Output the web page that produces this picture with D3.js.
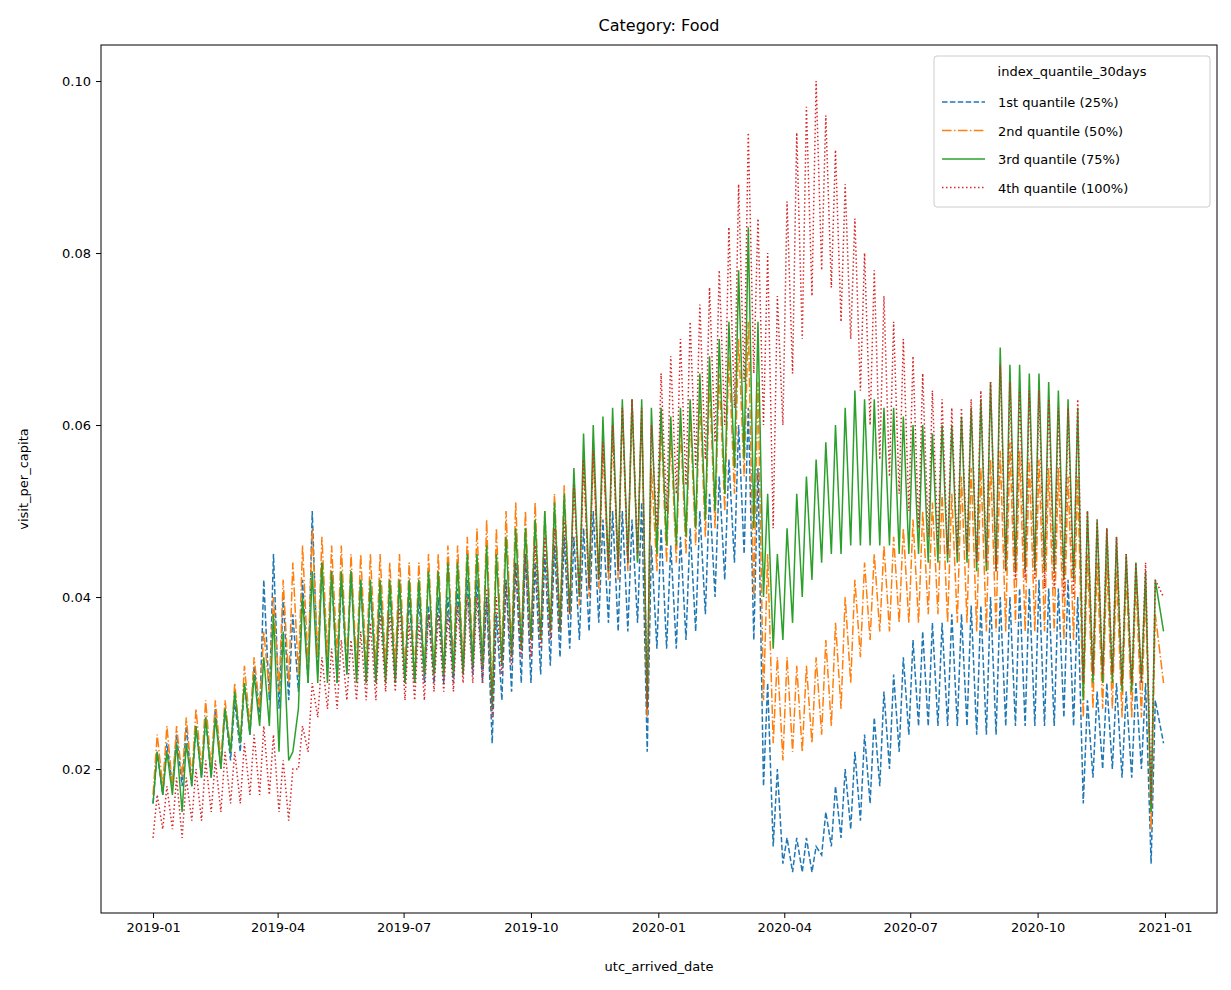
<!DOCTYPE html>
<html>
<head>
<meta charset="utf-8">
<script src="https://cdn.jsdelivr.net/npm/d3@7"></script>
<style>
  body { margin: 0; background: #fff; }
  text { font-family: "DejaVu Sans", sans-serif; }
</style>
</head>
<body>
<svg id="chart" width="1231" height="990"></svg>
<script>
// weekly peak / trough readings (thousandths of visit_per_capita), week 0 = 2019-01-01
const q1Hi = [22,23,24,25, 25,26,27,27, 28,30,32,42,45, 40,38,42,50, 44,43,42,43,42, 41,40,41,42, 40,40,39,40, 40,41,42,42,40, 38,42,44,45, 44,45,46,47,47, 48,50,49,50, 50,49,51,46,
              48,46,47,48, 50,52,54,56, 60,62,55,30,20, 12,12,12,11, 15,18,20,22,24, 26,29,31,33, 35,36,37,37, 38,38,39,39,40, 40,40,41,41, 42,41,41,42,40, 28,29,30,30, 29,30,30,28];
const q1Lo = [16,17,18,18, 18,19,19,20, 21,22,24,26,28, 27,28,29,30, 31,31,30,31,31, 30,30,31,30, 30,30,30,30, 30,30,31,31,30, 23,28,29,30, 30,31,32,33,34, 35,36,37,37, 36,36,37,22,
              34,34,34,35, 36,38,40,42, 44,45,35,18,11, 9,8,8,8, 10,11,12,13,14, 16,18,20,22, 24,25,25,25, 25,25,25,24,24, 24,25,25,25, 25,25,25,26,25, 16,19,20,20, 19,19,20,9];
const q2Hi = [24,25,25,26, 27,28,28,28, 30,32,33,36,40, 42,44,46,48, 47,46,46,45,45, 45,45,44,45, 44,44,45,45, 46,46,47,48,49, 48,50,51,50, 51,50,52,53,54, 56,57,58,60, 62,63,62,55,
              60,59,60,61, 63,65,66,68, 70,72,65,45,33, 33,32,32,33, 35,37,40,42,44, 45,46,47,48, 49,50,51,52, 52,54,55,55,56, 57,58,57,56, 56,55,55,54,54, 45,44,44,43, 43,42,41,38];
const q2Lo = [17,18,18,19, 19,20,20,21, 22,23,25,27,29, 29,30,31,32, 33,33,33,32,32, 32,32,32,32, 31,31,31,31, 31,32,32,33,32, 28,33,34,34, 35,35,36,37,38, 39,40,41,42, 42,43,44,26,
              43,44,44,45, 46,47,48,50, 52,54,40,28,23, 21,22,22,23, 24,25,27,30,33, 35,36,36,37, 37,37,38,38, 37,37,37,36,36, 36,36,37,36, 36,36,36,35,35, 26,27,27,27, 26,26,26,13];
const q3Hi = [22,22,23,23, 25,26,26,27, 29,30,31,33,38, 36,22,40,43, 44,43,43,43,42, 42,42,42,42, 42,42,43,43, 44,44,45,45,46, 45,47,48,48, 49,50,51,52,55, 59,60,61,62, 63,63,63,62,
              62,61,62,63, 66,68,70,72, 78,83,72,52,45, 48,52,54,56, 58,60,62,64,63, 63,62,62,61, 60,60,59,60, 60,61,62,63,65, 69,67,67,66, 66,65,64,63,62, 50,49,48,47, 45,44,43,42];
const q3Lo = [16,17,17,15, 18,19,19,20, 22,23,24,25,25, 22,21,27,30, 30,30,30,31,30, 30,30,30,30, 30,30,31,31, 31,31,31,32,32, 27,32,33,34, 35,35,36,36,38, 40,41,42,43, 43,44,44,27,
              45,46,46,47, 48,49,50,52, 55,56,48,40,34, 35,37,40,42, 44,45,45,46,46, 46,46,46,45, 45,45,44,44, 44,44,44,43,43, 43,43,43,43, 43,43,43,42,42, 28,30,30,30, 29,29,30,15];
const q4Hi = [17,18,19,19, 20,21,21,22, 22,23,24,25,24, 21,20,25,30, 33,34,35,35,36, 37,38,38,39, 37,37,38,38, 38,39,40,40,41, 40,42,44,45, 46,47,48,49,53, 56,57,58,60, 62,63,62,60,
              66,68,70,72, 74,76,78,83, 88,94,84,80,75, 86,94,97,100, 96,92,88,84,80, 78,75,72,70, 68,66,64,63, 62,62,63,64,65, 67,65,64,64, 64,63,62,62,63, 50,49,48,47, 45,44,44,42];
const q4Lo = [12,13,13,12, 14,14,15,15, 16,16,17,17,17, 15,14,20,22, 26,27,27,28,28, 28,28,29,29, 28,28,28,29, 29,29,30,30,30, 26,31,32,33, 33,34,35,36,38, 40,41,42,43, 43,44,45,27,
              48,50,52,53, 55,56,58,60, 62,65,66,60,48, 60,66,70,75, 78,76,72,70,64, 60,56,54,52, 50,48,47,46, 45,45,45,44,44, 43,43,42,42, 42,41,41,40,40, 30,31,31,31, 30,30,30,16];
const endValues = [23, 30, 36, 40];  // 2020-12-31

const seriesNames = ['1st quantile (25%)', '2nd quantile (50%)', '3rd quantile (75%)', '4th quantile (100%)'];
const seriesColors = ['#1f77b4', '#ff7f0e', '#2ca02c', '#d62728'];
const seriesDash = ['5.5,2.4', '9.6,2.4,1.5,2.4', null, '1.5,2.5'];
const xTicks = ['2019-01', '2019-04', '2019-07', '2019-10', '2020-01', '2020-04', '2020-07', '2020-10', '2021-01'];
const yTicks = [0.02, 0.04, 0.06, 0.08, 0.10];

const parseMonth = d3.timeParse('%Y-%m');
const startDate = new Date(2019, 0, 1);
const endDate = new Date(2020, 11, 31);
const DAY = 86400000;

function buildSeries(hi, lo, endVal) {
    let pts = [];
    for (let i = 0; i < hi.length; i++) {
        pts.push({ date: d3.timeDay.offset(startDate, 7 * i), v: lo[i] / 1000 });
        pts.push({ date: d3.timeDay.offset(startDate, 7 * i + 3), v: hi[i] / 1000 });
    }
    pts.push({ date: endDate, v: endVal / 1000 });
    return pts;
}

const allSeries = [
    buildSeries(q1Hi, q1Lo, endValues[0]),
    buildSeries(q2Hi, q2Lo, endValues[1]),
    buildSeries(q3Hi, q3Lo, endValues[2]),
    buildSeries(q4Hi, q4Lo, endValues[3])
];

const svg = d3.select('#chart');
const pLeft = 101, pRight = 1217, pTop = 45, pBottom = 913;

const x = d3.scaleTime()
    .domain([new Date(+startDate - 37.6 * DAY), new Date(+startDate + (731 + 37.6) * DAY)])
    .range([pLeft, pRight]);
const y = d3.scaleLinear()
    .domain([0.00326, 0.10419])
    .range([pBottom, pTop]);

const plot = svg.append('g');
plot.append('clipPath').attr('id', 'clip').append('rect')
    .attr('x', pLeft).attr('y', pTop).attr('width', pRight - pLeft).attr('height', pBottom - pTop);

const line = d3.line().x(d => x(d.date)).y(d => y(d.v));

allSeries.forEach((s, i) => {
    plot.append('path')
        .datum(s)
        .attr('clip-path', 'url(#clip)')
        .attr('fill', 'none')
        .attr('stroke', seriesColors[i])
        .attr('stroke-width', 1.5)
        .attr('stroke-dasharray', seriesDash[i])
        .attr('d', line);
});

// axes
const xAxis = d3.axisBottom(x).tickValues(xTicks.map(parseMonth)).tickFormat(d3.timeFormat('%Y-%m')).tickSizeOuter(0).tickSize(5).tickPadding(5);
const yAxis = d3.axisLeft(y).tickValues(yTicks).tickFormat(d3.format('.2f')).tickSizeOuter(0).tickSize(5).tickPadding(5);

const gx = svg.append('g').attr('transform', `translate(0,${pBottom})`).call(xAxis);
const gy = svg.append('g').attr('transform', `translate(${pLeft},0)`).call(yAxis);
[gx, gy].forEach(g => {
    g.select('.domain').remove();
    g.selectAll('text').attr('font-size', 13).attr('fill', '#000').style('font-family', 'DejaVu Sans');
    g.selectAll('line').attr('stroke', '#000');
});

svg.append('rect')
    .attr('x', pLeft).attr('y', pTop).attr('width', pRight - pLeft).attr('height', pBottom - pTop)
    .attr('fill', 'none').attr('stroke', '#000').attr('stroke-width', 1);

svg.append('text').attr('x', (pLeft + pRight) / 2).attr('y', 31).attr('text-anchor', 'middle')
    .attr('font-size', 16).text('Category: Food');
svg.append('text').attr('x', (pLeft + pRight) / 2).attr('y', 971).attr('text-anchor', 'middle')
    .attr('font-size', 13).text('utc_arrived_date');
svg.append('text').attr('transform', 'translate(28,479) rotate(-90)').attr('text-anchor', 'middle')
    .attr('font-size', 13).text('visit_per_capita');

// legend
const lg = svg.append('g');
lg.append('rect').attr('x', 934).attr('y', 56).attr('width', 276).attr('height', 151).attr('rx', 3)
    .attr('fill', '#fff').attr('fill-opacity', 0.8).attr('stroke', '#ccc');
lg.append('text').attr('x', 1072).attr('y', 76).attr('text-anchor', 'middle').attr('font-size', 13).text('index_quantile_30days');
seriesNames.forEach((n, i) => {
    const yy = 102 + i * 28.5;
    lg.append('line').attr('x1', 942).attr('x2', 985).attr('y1', yy).attr('y2', yy)
        .attr('stroke', seriesColors[i]).attr('stroke-width', 1.5).attr('stroke-dasharray', seriesDash[i]);
    lg.append('text').attr('x', 998).attr('y', yy + 5).attr('font-size', 13).text(n);
});
</script>
</body>
</html>
